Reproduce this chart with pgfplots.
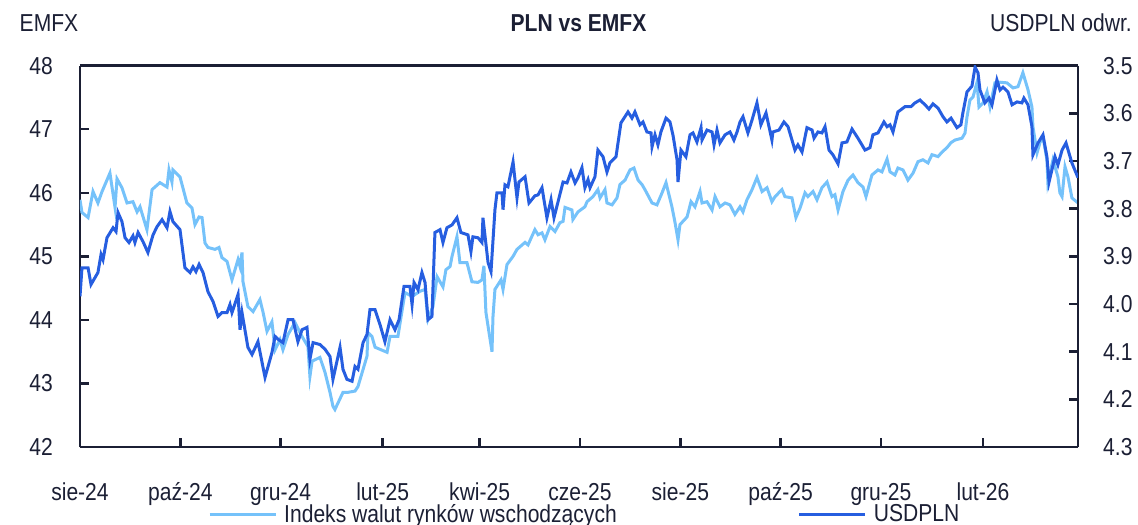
\documentclass[border=0pt]{standalone}
\usepackage{pgfplots}
\pgfplotsset{compat=1.18}
\usepackage{fontspec}
\setmainfont{Liberation Sans}[FakeStretch=0.86]
\definecolor{emfx}{RGB}{117,194,250}
\definecolor{usd}{RGB}{38,94,224}
\definecolor{ink}{RGB}{27,31,52}
\newcommand\f{\fontsize{24.5bp}{29bp}\selectfont}
\begin{document}
\begin{tikzpicture}
\pgfplotsset{
  base/.style={
    at={(0,0)}, anchor=south west,
    scale only axis, width=998bp, height=381.3bp,
    xmin=0, xmax=606.8,
    tick align=inside, major tick length=9bp,
    axis line style={draw=ink, line width=2.6bp},
    tick style={draw=ink, line width=2.4bp},
    ytick style={draw=ink, line width=2.4bp},
    xtick style={draw=ink, line width=2.4bp},
    tick label style={font=\f, text=ink},
    /pgf/number format/assume math mode=true,
    clip=true,
  }
}
\begin{axis}[base,
  axis x line*=bottom, axis y line*=left,
  ymin=42, ymax=48,
  xtick={0,61,122,184,243,304,365,426,487,549},
  xticklabels={sie-24,paź-24,gru-24,lut-25,kwi-25,cze-25,sie-25,paź-25,gru-25,lut-26},
  ytick={42,43,44,45,46,47,48},
  xticklabel style={anchor=north, inner sep=0pt, yshift=-35bp, text height=18bp, text depth=0bp},
  yticklabel style={anchor=east, inner sep=0pt, xshift=-27bp},
]
\addplot[emfx, line width=3bp, no markers] table {
0 45.89
1.2 45.69
4.9 45.61
7.9 46.02
10.9 45.84
13.4 46.02
18.2 46.31
21.3 45.77
22.5 46.22
25.5 46.08
28.6 45.84
32.2 45.86
34.7 45.70
36.5 45.78
40.7 45.42
43.8 46.05
48.6 46.16
52.9 46.09
54.1 46.36
55.9 46.17
56.5 46.36
60.8 46.25
65.0 45.84
68.1 45.76
69.9 45.50
72.4 45.62
74.2 45.61
76.0 45.21
77.8 45.14
82.1 45.11
84.5 45.14
86.3 44.98
89.4 44.92
92.4 44.63
96.1 44.95
97.3 44.84
98.5 45.06
99.1 44.60
102.1 44.21
105.2 44.13
109.4 44.32
111.3 44.12
113.7 43.82
116.7 43.97
118.6 43.53
121.6 43.69
123.4 43.53
126.5 43.77
130.7 43.96
135.0 43.74
138.6 43.58
139.8 43.11
141.1 43.35
145.9 43.41
149.0 43.17
152.0 42.86
153.8 42.64
155.0 42.59
159.9 42.86
162.9 42.86
167.2 42.88
169.0 42.95
172.1 43.22
174.5 43.43
175.1 43.80
177.5 43.74
179.4 43.57
186.7 43.49
188.5 43.74
193.3 43.74
197.6 44.43
201.9 44.37
206.7 44.45
209.8 44.48
211.6 44.01
214.6 44.21
217.1 44.68
220.7 44.52
222.5 44.79
225.0 44.84
226.2 45.00
229.2 45.31
231.0 44.90
235.3 44.90
238.3 44.60
242.0 44.59
244.4 44.63
245.6 44.85
246.8 44.12
250.5 43.50
251.1 44.05
252.3 44.48
256.0 44.63
257.2 44.48
259.6 44.87
263.3 45.00
265.7 45.11
270.6 45.22
272.4 45.18
276.6 45.42
278.5 45.34
280.9 45.37
282.7 45.26
285.8 45.47
288.8 45.39
291.8 45.53
293.7 45.55
294.9 45.77
299.1 45.73
299.7 45.58
302.8 45.70
307.0 45.78
308.3 45.86
311.9 45.94
314.9 46.05
316.2 45.92
319.2 46.05
320.4 45.84
323.5 45.81
326.5 45.92
328.3 46.13
331.4 46.20
334.4 46.36
336.8 46.39
339.3 46.20
341.7 46.13
343.5 46.05
347.8 45.84
350.8 45.81
353.9 46.00
356.3 46.16
359.9 45.78
361.8 45.53
363.6 45.26
364.8 45.50
369.1 45.62
371.5 45.86
373.9 45.78
377.0 46.02
378.2 45.84
381.2 45.86
384.3 45.73
386.1 45.94
389.1 45.78
392.2 45.84
395.2 45.81
398.2 45.66
401.3 45.78
403.1 45.70
405.5 45.89
408.6 46.05
411.6 46.24
414.7 46.02
417.7 46.08
420.7 45.86
422.6 45.94
426.8 46.05
428.6 45.94
432.9 45.92
435.3 45.61
437.8 45.76
440.8 46.00
442.6 45.94
445.7 46.02
448.1 45.89
451.1 46.08
454.2 46.17
457.2 45.94
459.0 45.97
460.9 45.73
463.9 46.02
467.0 46.20
470.0 46.28
473.0 46.16
476.1 46.09
477.9 45.94
481.5 46.28
485.2 46.36
487.6 46.33
490.7 46.53
492.5 46.33
495.5 46.28
497.3 46.39
500.4 46.36
503.4 46.20
506.5 46.31
509.5 46.49
512.5 46.52
515.6 46.47
518.0 46.60
521.7 46.57
524.1 46.64
527.1 46.71
529.6 46.79
532.0 46.83
536.3 46.86
538.1 46.94
539.3 47.19
541.1 47.46
543.0 47.51
545.4 47.74
546.6 47.35
549.0 47.41
551.5 47.59
553.3 47.35
556.3 47.73
559.4 47.74
563.6 47.73
567.3 47.65
570.3 47.67
573.3 47.89
576.4 47.62
578.8 47.35
579.4 47.04
581.9 46.63
583.7 46.79
585.5 46.88
587.9 46.52
588.5 46.16
591.6 46.52
594.6 46.25
595.8 46.00
597.1 45.94
598.9 46.41
600.7 46.25
603.1 45.92
606.8 45.84
};
\end{axis}
\begin{axis}[base,
  ymin=3.5, ymax=4.3, y dir=reverse,
  axis x line*=top, xtick=\empty,
  axis y line*=right,
  ytick={3.5,3.6,3.7,3.8,3.9,4.0,4.1,4.2,4.3},
  yticklabel style={anchor=west, inner sep=0pt, xshift=25bp,
    /pgf/number format/.cd, fixed, fixed zerofill, precision=1},
  legend columns=2,
  legend style={at={(axis description cs:0.1283,-0.1758)}, anchor=west,
    draw=none, fill=none, inner sep=0pt, font=\f, text=ink,
    nodes={inner sep=0pt},
    /tikz/every odd column/.append style={column sep=7bp},
    /tikz/every even column/.append style={column sep=181bp}},
  legend image code/.code={\draw[#1, line width=3bp] (0bp,0bp) -- (66bp,0bp);},
]
\addlegendimage{emfx, line width=3bp}
\addlegendentry{Indeks walut rynków wschodzących}
\addplot[usd, line width=3bp, no markers] table {
0 3.984
1.2 3.924
4.9 3.924
6.7 3.959
10.9 3.934
12.8 3.896
14.0 3.907
16.4 3.861
20.1 3.840
21.9 3.848
23.1 3.808
25.5 3.827
27.4 3.861
29.8 3.871
32.2 3.857
33.4 3.871
35.3 3.850
38.3 3.869
41.3 3.892
44.4 3.855
46.8 3.838
49.9 3.823
52.9 3.840
54.7 3.806
56.5 3.827
60.8 3.844
63.8 3.924
66.9 3.934
68.7 3.922
70.5 3.932
72.4 3.917
74.8 3.934
77.8 3.974
80.9 3.995
83.9 4.026
86.3 4.018
89.4 4.018
91.2 4.001
92.4 4.018
96.1 3.980
97.3 4.054
98.5 4.018
102.1 4.091
104.6 4.106
108.2 4.079
112.5 4.154
116.7 4.102
118.6 4.068
120.4 4.074
123.4 4.081
126.5 4.033
129.5 4.033
132.5 4.079
135.0 4.054
138.0 4.049
139.8 4.116
141.7 4.081
145.9 4.085
149.0 4.095
152.0 4.110
153.8 4.158
158.1 4.091
159.9 4.137
162.3 4.158
165.4 4.162
167.2 4.131
169.0 4.137
172.1 4.081
174.5 4.064
176.3 4.012
179.4 4.012
182.4 4.043
185.4 4.079
188.5 4.033
191.5 4.054
194.0 4.033
197.0 3.963
200.6 3.963
201.9 4.001
203.1 3.955
205.5 3.970
207.9 3.934
209.8 3.955
211.6 4.033
214.0 4.026
215.8 3.850
218.9 3.844
220.7 3.871
223.1 3.840
226.2 3.834
229.2 3.819
231.6 3.850
235.9 3.855
237.7 3.890
238.9 3.859
242.0 3.861
244.4 3.871
245.0 3.819
248.1 3.913
249.9 3.932
252.3 3.802
253.5 3.767
256.6 3.767
257.2 3.802
258.4 3.750
260.2 3.754
263.3 3.702
265.7 3.777
266.9 3.744
270.6 3.733
273.0 3.788
276.6 3.773
278.5 3.771
280.9 3.756
283.9 3.819
286.4 3.781
288.2 3.819
293.7 3.744
296.1 3.746
298.5 3.723
301.0 3.746
302.8 3.735
305.2 3.714
307.0 3.756
308.9 3.739
310.1 3.756
313.1 3.733
314.9 3.677
318.0 3.691
320.4 3.723
322.2 3.704
325.9 3.691
328.9 3.620
333.2 3.597
335.6 3.610
337.4 3.597
340.5 3.624
342.3 3.618
344.7 3.639
347.2 3.641
347.8 3.670
349.6 3.645
351.4 3.666
353.2 3.639
356.3 3.610
358.7 3.618
360.5 3.645
363.0 3.697
363.6 3.744
365.4 3.677
368.4 3.691
370.9 3.645
372.7 3.641
375.1 3.660
377.6 3.630
378.2 3.656
381.2 3.635
384.3 3.639
385.5 3.666
387.3 3.635
389.1 3.662
392.2 3.645
395.2 3.639
397.6 3.656
399.5 3.639
401.3 3.618
403.1 3.607
406.1 3.641
408.6 3.614
411.6 3.578
414.0 3.624
417.1 3.599
420.7 3.656
421.3 3.639
425.0 3.635
428.0 3.618
430.5 3.628
434.7 3.677
436.5 3.666
439.0 3.681
442.0 3.630
445.1 3.635
446.3 3.652
448.7 3.639
451.1 3.641
453.0 3.628
455.4 3.677
457.8 3.687
460.9 3.706
463.3 3.662
466.3 3.660
469.4 3.633
473.0 3.652
477.3 3.677
480.3 3.672
482.1 3.645
485.2 3.641
488.8 3.618
490.7 3.628
492.5 3.624
494.3 3.639
497.3 3.597
501.6 3.586
505.2 3.586
507.7 3.578
510.7 3.572
513.8 3.582
516.2 3.591
518.6 3.580
521.7 3.589
524.7 3.607
527.1 3.618
529.6 3.610
533.2 3.630
535.6 3.624
536.8 3.599
539.3 3.555
542.3 3.543
544.2 3.503
546.0 3.515
547.2 3.551
550.2 3.578
552.7 3.568
554.5 3.582
557.5 3.530
559.4 3.551
561.2 3.545
564.2 3.555
566.7 3.582
569.7 3.576
572.7 3.578
573.9 3.568
576.4 3.582
578.8 3.628
579.4 3.687
582.5 3.662
585.5 3.645
587.9 3.691
589.2 3.744
592.8 3.691
594.6 3.708
597.1 3.677
599.5 3.662
603.1 3.704
606.8 3.735
};
\addlegendentry{USDPLN}
\end{axis}
\node[font=\f\bfseries, text=ink] at (498.5bp,424bp) {PLN vs EMFX};
\node[font=\f, text=ink] at (-31bp,424bp) {EMFX};
\node[font=\f, text=ink] at (981bp,424bp) {USDPLN odwr.};
\pgfresetboundingbox
\path[use as bounding box] (-80bp,-78bp) rectangle (1058bp,447bp);
\end{tikzpicture}
\end{document}
